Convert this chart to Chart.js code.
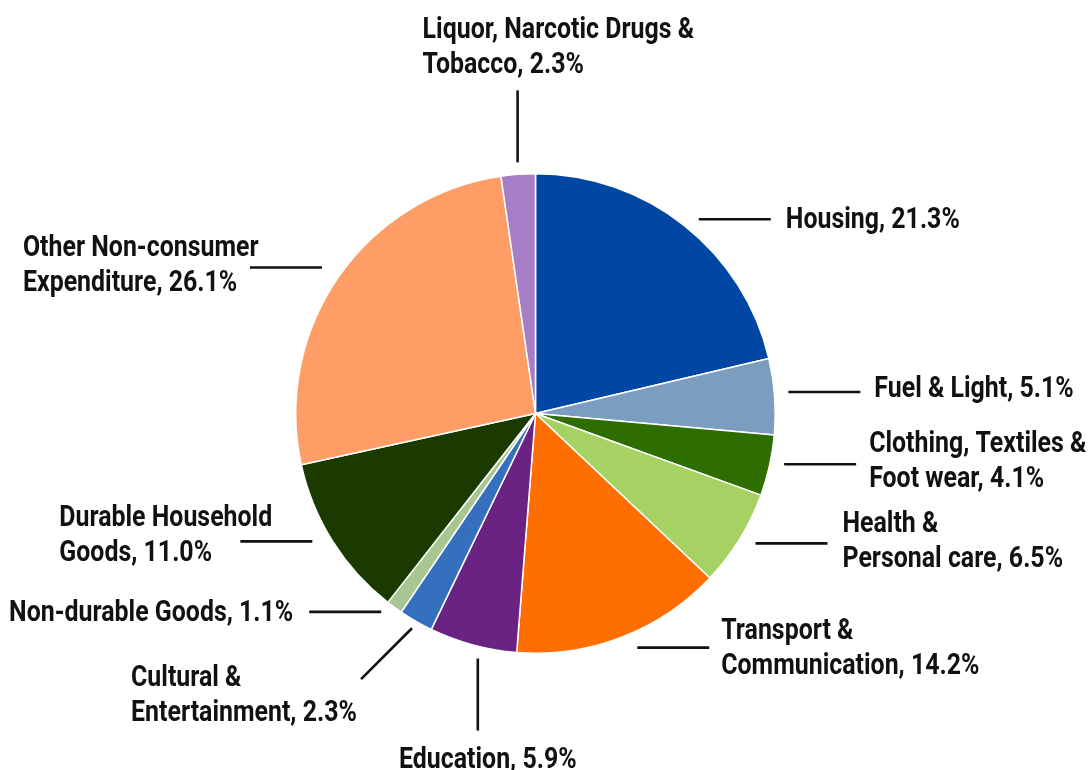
<!DOCTYPE html>
<html>
<head>
<meta charset="utf-8">
<script src="https://cdn.jsdelivr.net/npm/chart.js@4/dist/chart.umd.min.js"></script>
<style>
  html, body { margin: 0; padding: 0; background: #ffffff; }
  #wrap { width: 1091px; height: 770px; position: relative; }
</style>
</head>
<body>
<div id="wrap"><canvas id="pie"></canvas></div>
<script>
// Household expenditure shares (%)
const categories = [
  'Housing', 'Fuel & Light', 'Clothing, Textiles & Foot wear', 'Health & Personal care',
  'Transport & Communication', 'Education', 'Cultural & Entertainment', 'Non-durable Goods',
  'Durable Household Goods', 'Other Non-consumer Expenditure', 'Liquor, Narcotic Drugs & Tobacco'
];
const shares = [21.3, 5.1, 4.1, 6.5, 14.2, 5.9, 2.3, 1.1, 11.0, 26.1, 2.3];

// Category names as they wrap on the chart
const nameLines = [
  ['Housing'],
  ['Fuel & Light'],
  ['Clothing, Textiles &', 'Foot wear'],
  ['Health &', 'Personal care'],
  ['Transport &', 'Communication'],
  ['Education'],
  ['Cultural &', 'Entertainment'],
  ['Non-durable Goods'],
  ['Durable Household', 'Goods'],
  ['Other Non-consumer', 'Expenditure'],
  ['Liquor, Narcotic Drugs &', 'Tobacco']
];

const sliceColors = [
  '#0047a3', '#7b9dc0', '#2e6d00', '#a6d263', '#ff6e00', '#6b2383',
  '#3570be', '#a7c692', '#1a3a00', '#ff9d67', '#a77dc6'
];

// Leader-line and label placement for each slice
// mode: h = horizontal, v = vertical, d = diagonal (down-left)
// nudge: small shift of the line across its direction
// shift: moves a horizontal line further out (+) or in (-)
// align: where the text block sits relative to the line end
const labelLayout = [
  { mode: 'h', nudge: 0,  shift: 0,  align: 'left',  ax: 15,   ay: 0 },
  { mode: 'h', nudge: -4, shift: 0,  align: 'left',  ax: 14,   ay: -4 },
  { mode: 'h', nudge: -3, shift: 0,  align: 'left',  ax: 13,   ay: -3.5 },
  { mode: 'h', nudge: 0,  shift: 2,  align: 'left',  ax: 15,   ay: -2.5 },
  { mode: 'h', nudge: 3,  shift: 4,  align: 'left',  ax: 12,   ay: 0 },
  { mode: 'v', nudge: 7,  shift: 0,  align: 'center', ax: 10,  ay: 29 },
  { mode: 'd', nudge: 0,  shift: 0,  align: 'left',  ax: -230, ay: 16 },
  { mode: 'h', nudge: -2, shift: -4, align: 'right', ax: -16,  ay: 0 },
  { mode: 'h', nudge: -4, shift: 4,  align: 'left',  ax: -181, ay: -6.5 },
  { mode: 'h', nudge: -5, shift: 6,  align: 'left',  ax: -227, ay: -2.5 },
  { mode: 'v', nudge: 0,  shift: 0,  align: 'left',  ax: -95,  ay: -44 }
];

// Condensed look: a bold grotesque squeezed horizontally
const LABEL_FONT = "bold 29px Roboto, 'Liberation Sans', sans-serif";
const SAMPLE_TEXT = 'Housing, 21.3%';
const SAMPLE_WIDTH = 174;
const LINE_HEIGHT = 35;
const LEADER_LEN = 72;
const TEXT_DROP = 1.5;

const leaderLabels = {
  id: 'leaderLabels',
  afterDatasetsDraw(chart) {
    const ctx = chart.ctx;
    const meta = chart.getDatasetMeta(0);
    ctx.save();
    ctx.font = LABEL_FONT;
    const squeeze = SAMPLE_WIDTH / ctx.measureText(SAMPLE_TEXT).width;
    ctx.fillStyle = '#111111';
    ctx.strokeStyle = '#111111';
    ctx.lineWidth = 2.6;
    ctx.lineCap = 'butt';
    ctx.textBaseline = 'middle';
    meta.data.forEach((arc, i) => {
      const p = arc.getProps(['x', 'y', 'startAngle', 'endAngle', 'outerRadius'], true);
      const mid = (p.startAngle + p.endAngle) / 2;
      const cx = p.x, cy = p.y, R = p.outerRadius;
      const lay = labelLayout[i];
      const c = Math.cos(mid), s = Math.sin(mid);
      let sx, sy, ex, ey;
      if (lay.mode === 'h') {
        const side = c >= 0 ? 1 : -1;
        sy = cy + (R + 8) * s + lay.nudge;
        const d = sy - cy;
        sx = cx + side * (Math.sqrt(Math.max((R + 14) ** 2 - d * d, 0)) + lay.shift);
        ex = sx + side * LEADER_LEN;
        ey = sy;
      } else if (lay.mode === 'v') {
        const vside = s >= 0 ? 1 : -1;
        sx = cx + (R + 8) * c + lay.nudge;
        const d = sx - cx;
        sy = cy + vside * Math.sqrt(Math.max((R + 12) ** 2 - d * d, 0));
        ex = sx;
        ey = sy + vside * LEADER_LEN;
      } else {
        sx = cx + (R + 8) * c;
        sy = cy + (R + 8) * s;
        ex = sx - LEADER_LEN * Math.SQRT1_2;
        ey = sy + LEADER_LEN * Math.SQRT1_2;
      }
      ctx.beginPath();
      ctx.moveTo(sx, sy);
      ctx.lineTo(ex, ey);
      ctx.stroke();

      const lines = nameLines[i].slice();
      lines[lines.length - 1] += ', ' + shares[i].toFixed(1) + '%';
      const top = ey + lay.ay + TEXT_DROP - (lines.length - 1) * LINE_HEIGHT / 2;
      ctx.textAlign = lay.align;
      lines.forEach((t, k) => {
        ctx.save();
        ctx.translate(ex + lay.ax, top + k * LINE_HEIGHT);
        ctx.scale(squeeze, 1);
        ctx.fillText(t, 0, 0);
        ctx.restore();
      });
    });
    ctx.restore();
  }
};

new Chart(document.getElementById('pie'), {
  type: 'pie',
  data: {
    labels: categories,
    datasets: [{
      data: shares,
      backgroundColor: sliceColors,
      borderColor: '#ffffff',
      borderWidth: 1.5
    }]
  },
  options: {
    responsive: true,
    maintainAspectRatio: false,
    animation: false,
    layout: { padding: { left: 295, right: 315, top: 173, bottom: 116 } },
    plugins: {
      legend: { display: false },
      tooltip: { enabled: false }
    }
  },
  plugins: [leaderLabels]
});
</script>
</body>
</html>
